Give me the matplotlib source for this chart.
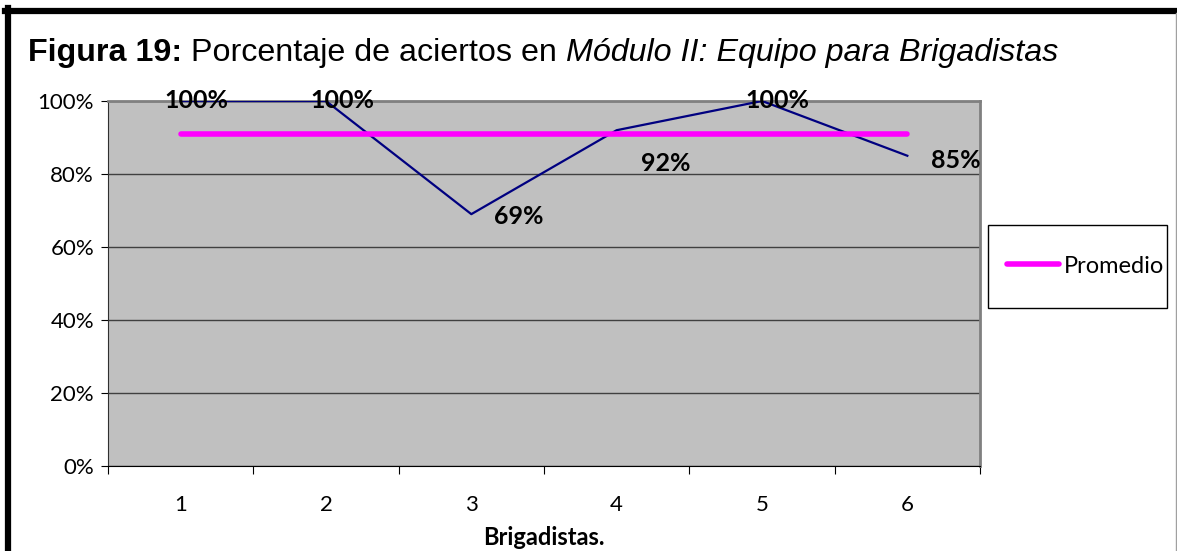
import matplotlib
matplotlib.use("Agg")
from matplotlib import pyplot as plt
from matplotlib.lines import Line2D
from matplotlib.patches import Rectangle
from matplotlib.ticker import PercentFormatter, MultipleLocator

# data
brigadistas = [1, 2, 3, 4, 5, 6]
aciertos = [1.00, 1.00, 0.69, 0.92, 1.00, 0.85]
promedio = [0.91, 0.91, 0.91, 0.91, 0.91, 0.91]
labels = ['100%', '100%', '69%', '92%', '100%', '85%']

# where each data label sits relative to its point (points)
label_offsets = [(11, 0), (12, 0), (34, -1.5), (35, -24), (11, 0), (35, -3.5)]

W, H = 1177, 551
fig = plt.figure(figsize=(W / 100, H / 100), dpi=100)
ax = fig.add_axes([108 / W, 1 - 466 / H, (980 - 108) / W, (466 - 101) / H])
ax.set_facecolor('#C0C0C0')

ax.plot(brigadistas, aciertos, color='#000080', lw=1.6, zorder=3)
ax.plot(brigadistas, promedio, color='#FF00FF', lw=4, solid_capstyle='round',
        zorder=4, label='Promedio')

for x, y, s, off in zip(brigadistas, aciertos, labels, label_offsets):
    ax.annotate(s, (x, y), xytext=off, textcoords='offset points',
                ha='center', va='center', fontsize=18, fontweight='bold',
                family='Lato', zorder=6, annotation_clip=False)

ax.set_xlim(0.5, 6.5)
ax.set_ylim(0, 1)
ax.yaxis.set_major_locator(MultipleLocator(0.2))
ax.yaxis.set_major_formatter(PercentFormatter(1.0, decimals=0))
ax.set_xticks(brigadistas)
ax.set_xticks([0.5 + i for i in range(7)], minor=True)
ax.tick_params(axis='x', which='major', length=0, pad=21, labelsize=16)
ax.tick_params(axis='x', which='minor', length=6, width=0.8, color='black')
ax.tick_params(axis='y', length=5, width=0.8, pad=5, labelsize=16)
for lab in ax.get_xticklabels() + ax.get_yticklabels():
    lab.set_family('Lato')

ax.grid(axis='y', color='#404040', lw=1)
ax.set_axisbelow(True)
for side in ['top', 'right']:
    ax.spines[side].set_color('#808080')
    ax.spines[side].set_linewidth(2)
ax.spines['left'].set_color('#303030')
ax.spines['bottom'].set_color('black')

ax.set_xlabel('Brigadistas.', fontsize=17, fontweight='bold', family='Lato', labelpad=8)

# title in three pieces: bold, regular, italic
t1 = fig.text(28 / W, 1 - 68 / H, 'Figura 19:', fontsize=23.2, fontweight='bold',
              family='Liberation Sans', va='bottom')
t2 = fig.text(0, 0, ' Porcentaje de aciertos en ', fontsize=23.2,
              family='Liberation Sans', va='bottom')
t3 = fig.text(0, 0, 'Módulo II: Equipo para Brigadistas', fontsize=23.2,
              style='italic', family='Liberation Sans', va='bottom')
fig.canvas.draw()
r = fig.canvas.get_renderer()
b1 = t1.get_window_extent(r)
t2.set_position((b1.x1 / W, b1.y0 / H))
b2 = t2.get_window_extent(r)
t3.set_position((b2.x1 / W, b1.y0 / H))

# legend box
fig.add_artist(Rectangle((988 / W, 1 - 308 / H), (1167 - 988) / W, (308 - 225) / H,
                         transform=fig.transFigure, facecolor='white',
                         edgecolor='black', lw=1))
leg = fig.legend(loc='center left', bbox_to_anchor=(995 / W, 1 - 266 / H),
                 frameon=False, handlelength=2.2, handletextpad=0.2,
                 borderpad=0, prop={'family': 'Lato', 'size': 17})

# outer frame
fig.add_artist(Line2D([5 / W, 1], [1 - 10.5 / H] * 2, transform=fig.transFigure,
                      color='black', lw=4.5))
fig.add_artist(Line2D([8 / W] * 2, [0, 1 - 8 / H], transform=fig.transFigure,
                      color='black', lw=4.5))
fig.add_artist(Line2D([1 - 1 / W] * 2, [0, 1 - 13 / H], transform=fig.transFigure,
                      color='#A0A0A0', lw=1))

plt.savefig('out.png', dpi=100)
